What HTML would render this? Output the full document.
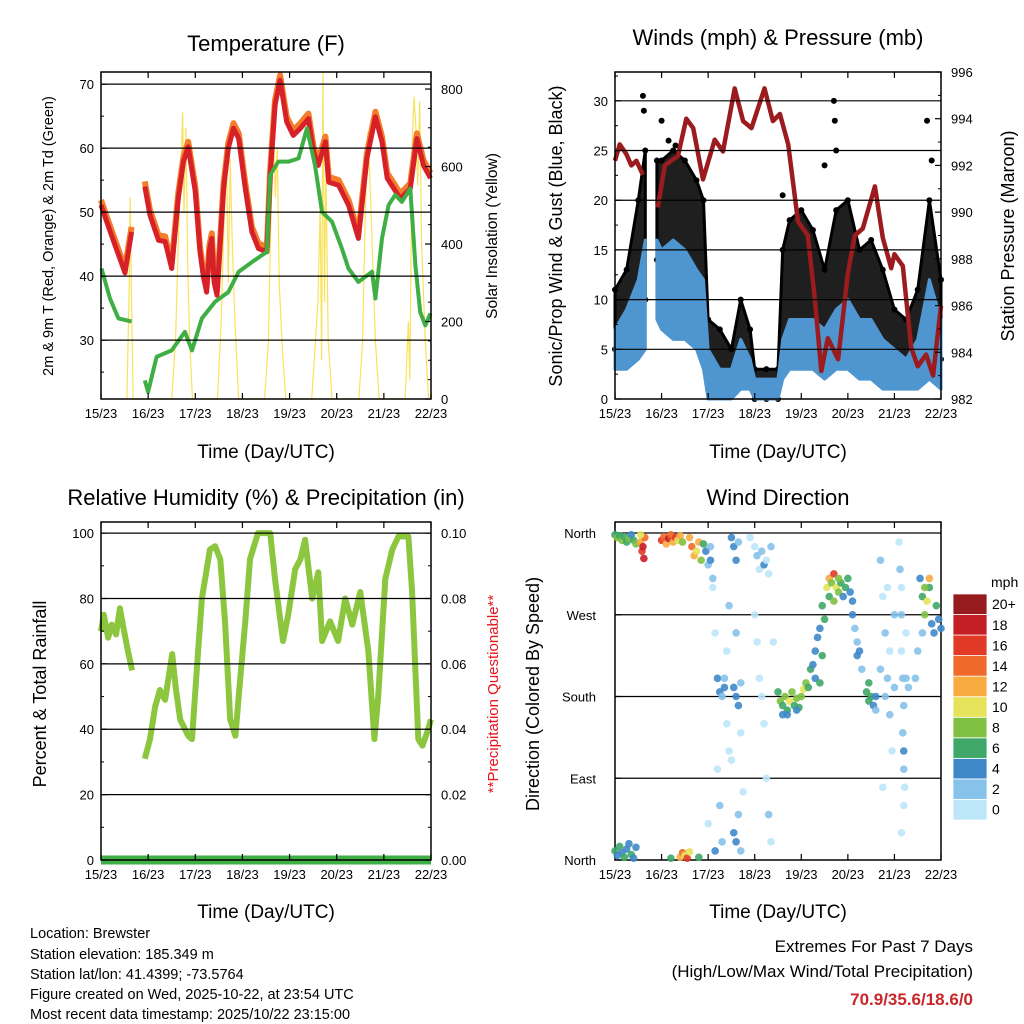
<!DOCTYPE html>
<html><head><meta charset="utf-8"><style>
body{margin:0;background:#fff;}
svg{display:block;font-family:"Liberation Sans",sans-serif;}
</style></head><body>
<svg id="svg" width="1024" height="1024" viewBox="0 0 1024 1024" xmlns="http://www.w3.org/2000/svg">
<rect width="1024" height="1024" fill="#fff"/>
<g id="g"></g>
<text x="266" y="51" text-anchor="middle" font-size="22">Temperature (F)</text>
<text x="778" y="45" text-anchor="middle" font-size="22">Winds (mph) &amp; Pressure (mb)</text>
<text x="266" y="505" text-anchor="middle" font-size="22">Relative Humidity (%) &amp; Precipitation (in)</text>
<text x="778" y="505" text-anchor="middle" font-size="22">Wind Direction</text>
<text x="266" y="458" text-anchor="middle" font-size="19">Time (Day/UTC)</text>
<text x="778" y="458" text-anchor="middle" font-size="19">Time (Day/UTC)</text>
<text x="266" y="918" text-anchor="middle" font-size="19">Time (Day/UTC)</text>
<text x="778" y="918" text-anchor="middle" font-size="19">Time (Day/UTC)</text>
<text transform="translate(53,236) rotate(-90)" text-anchor="middle" font-size="14.5">2m &amp; 9m T (Red, Orange) &amp; 2m Td (Green)</text>
<text transform="translate(497,236) rotate(-90)" text-anchor="middle" font-size="15.5">Solar Insolation (Yellow)</text>
<text transform="translate(562,236) rotate(-90)" text-anchor="middle" font-size="18">Sonic/Prop Wind &amp; Gust (Blue, Black)</text>
<text transform="translate(1014,236) rotate(-90)" text-anchor="middle" font-size="18">Station Pressure (Maroon)</text>
<text transform="translate(46,694) rotate(-90)" text-anchor="middle" font-size="18">Percent &amp; Total Rainfall</text>
<text transform="translate(498,694) rotate(-90)" text-anchor="middle" font-size="15" fill="#e8141c">**Precipitation Questionable**</text>
<text transform="translate(539,694) rotate(-90)" text-anchor="middle" font-size="18">Direction (Colored By Speed)</text>
<g font-size="14.5">
<text x="30" y="938">Location: Brewster</text>
<text x="30" y="959">Station elevation: 185.349 m</text>
<text x="30" y="979">Station lat/lon: 41.4399; -73.5764</text>
<text x="30" y="999">Figure created on Wed, 2025-10-22, at 23:54 UTC</text>
<text x="30" y="1019">Most recent data timestamp: 2025/10/22 23:15:00</text>
</g>
<text x="973" y="952" text-anchor="end" font-size="17">Extremes For Past 7 Days</text>
<text x="973" y="977" text-anchor="end" font-size="17">(High/Low/Max Wind/Total Precipitation)</text>
<text x="973" y="1005" text-anchor="end" font-size="17" font-weight="bold" fill="#c8262a">70.9/35.6/18.6/0</text>
</svg>
<script>
const dayLabels=["15/23","16/23","17/23","18/23","19/23","20/23","21/23","22/23"];
const tempT=[0,0.12,0.3,0.51,0.65,null,0.93,1.04,1.22,1.36,1.5,1.64,1.75,1.85,2.0,2.1,2.17,2.24,2.3,2.35,2.4,2.46,2.6,2.7,2.81,2.92,3.06,3.2,3.34,3.52,3.59,3.69,3.8,3.94,4.08,4.23,4.4,4.51,4.61,4.76,4.83,5.04,5.25,5.46,5.64,5.82,5.96,6.07,6.21,6.35,6.56,6.7,6.84,6.99];
const tempV=[51.1,48.5,44.8,40.5,46.9,null,54,49.5,45.6,45.4,41.2,52.2,57.9,60.2,53.2,43.8,40,37.5,44,45.9,39,37,53.7,60,63.1,61.5,53.7,46.9,44.3,43.8,55.8,66.7,70.6,64.1,62,63.1,64.6,59.4,57.3,61,54.7,54.2,51.1,45.9,58.4,64.9,61,55.3,53.7,52.1,53.7,61.5,57.3,55.3];
const dewT=[0.01,0.19,0.37,0.65,null,0.93,1.0,1.18,1.5,1.78,1.93,2.14,2.42,2.7,2.92,3.2,3.52,3.59,3.76,3.98,4.19,4.37,4.54,4.69,4.9,5.11,5.25,5.46,5.75,5.82,5.96,6.1,6.24,6.38,6.56,6.67,6.77,6.88,6.99];
const dewV=[41.2,36.5,33.4,32.9,null,23.7,21.9,27.4,28.4,31.3,28.4,33.4,36,37.5,40.7,42.2,43.8,55.8,57.9,57.9,58.4,63.1,57.3,50,48.5,44.3,41.2,39.1,40.7,36.5,45.9,51.1,52.7,51.6,53.7,41.7,34.4,32.3,34.2];
const solarT=[0.55,0.6,0.62,0.65,0.68,1.5,1.58,1.65,1.7,1.73,1.76,1.8,1.84,1.88,1.94,2.47,2.55,2.62,2.66,2.7,2.74,2.78,2.84,2.92,3.47,3.55,3.6,3.66,3.7,3.74,3.78,3.85,3.92,4.47,4.55,4.6,4.65,4.68,4.71,4.74,4.77,4.82,4.9,5.47,5.55,5.6,5.66,5.7,5.75,5.82,5.9,6.45,6.52,6.55,6.6,6.64,6.68,6.72,6.76,6.8,6.88,6.95];
const solarV=[0,300,520,250,0,0,150,450,600,740,480,700,350,150,0,0,200,500,660,300,620,420,200,0,0,150,450,700,520,650,300,120,0,0,150,250,500,100,844,250,600,150,0,0,150,450,690,580,400,150,0,0,200,50,650,780,700,550,770,400,150,0];
const presT=[0,0.1,0.24,0.35,0.46,0.6,null,0.92,1.07,1.35,1.53,1.68,1.89,2.14,2.32,2.57,2.75,2.93,3.21,3.39,3.54,3.72,3.93,4.14,4.29,4.43,4.57,4.79,5.0,5.15,5.32,5.58,5.75,5.93,6.0,6.18,6.36,6.5,6.68,6.83,7.0];
const presV=[992.2,992.9,992.5,992.0,992.2,991.6,null,990.2,992.0,992.4,994.0,993.6,991.4,993.1,992.6,995.3,993.9,993.6,995.3,993.9,994.2,992.9,989.6,989.0,986.3,983.2,984.6,983.7,987.4,989.0,989.3,991.1,988.9,987.6,988.2,987.7,984.2,983.4,983.9,983.0,986.0];
const windT=[0,0.25,0.5,0.65,null,0.9,1.0,1.25,1.5,1.75,1.9,2.0,2.25,2.5,2.7,2.9,3.0,3.25,3.5,3.6,3.75,4.0,4.25,4.5,4.75,5.0,5.25,5.5,5.75,6.0,6.25,6.5,6.75,7.0];
const windLo=[3,3,4,5,null,8,7,6,6,5,3,0,0,0,1,1,0,0,0,2,3,3,3,2,3,3,2,2,1,1,1,1,2,1];
const windHi=[7,9,12,16,null,16,15,16,15,13,12,5,3,3,6,4,2,2,2,6,8,8,8,7,9,10,8,8,6,5,4,6,12,8];
const gustLo=[5,6,8,10,null,14,14,13,13,10,8,1,1,1,3,2,0,0,0,5,7,7,6,4,7,8,5,5,3,2,2,3,8,4];
const gustHi=[11,13,20,25,null,24,24,25,24,22,20,8,7,5,10,7,3,3,3,15,18,19,17,13,19,20,15,16,13,9,8,11,20,12];
const gustOutT=[0.6,0.62,1.0,1.3,1.15,4.7,4.72,4.75,6.7,6.8,4.5,3.6];
const gustOutV=[30.5,29,28,25.5,26,30,28,25,28,24,23.5,20.5];
const rhT=[0,0.06,0.15,0.23,0.32,0.4,0.49,0.57,0.66,null,0.93,1.04,1.15,1.25,1.36,1.51,1.59,1.68,1.85,1.93,2.04,2.14,2.31,2.42,2.53,2.63,2.74,2.85,2.95,3.06,3.16,3.33,3.59,3.69,3.86,3.97,4.12,4.23,4.33,4.48,4.61,4.69,4.86,5.03,5.18,5.33,5.5,5.67,5.8,5.88,6.03,6.18,6.31,6.52,6.6,6.73,6.82,6.94,7.0];
const rhV=[70,75,68,72,69,77,70,64,58,null,31,37,47,52,49,63,52,43,38,37,60,80,95,96,92,73,43,38,55,73,92,100,100,86,67,75,89,92,98,80,88,67,73,67,80,72,82,64,37,50,86,95,99,99,82,37,35,40,43];
const precipT=[0,7];
const precipV=[0,0];
const dirT=[0,0.05,0.1,0.15,0.2,0.25,0.3,0.35,0.4,0.45,0,0.05,0.1,0.15,0.2,0.25,0.3,0.35,0.4,0.45,0.55,0.58,0.6,0.62,0.64,0.55,
1.0,1.05,1.1,1.15,1.2,1.25,1.3,1.35,1.4,1.45,1.4,1.45,1.5,1.55,1.6,1.2,1.8,
1.6,1.65,1.7,1.75,1.8,1.85,1.9,1.95,
2.0,2.05,2.1,2.15,2.2,2.25,2.3,2.35,2.4,2.05,2.1,2.2,2.25,2.3,2.0,2.35,2.4,2.45,2.45,2.15,
2.5,2.55,2.6,2.65,2.55,2.6,2.65,2.7,2.55,2.6,2.65,2.7,2.6,2.7,2.5,2.75,
2.9,3.0,3.05,3.1,3.15,3.2,3.25,3.3,3.35,3.0,3.05,3.1,3.2,3.25,3.3,3.35,3.15,3.4,
3.5,3.55,3.6,3.65,3.7,3.75,3.8,3.85,3.9,3.95,4.0,4.05,4.1,4.15,3.6,3.7,3.9,4.2,
4.25,4.3,4.35,4.4,4.45,4.3,4.4,4.5,4.45,
4.55,4.6,4.65,4.7,4.75,4.8,4.85,4.9,4.95,5.0,5.05,4.6,4.7,4.8,
5.1,5.15,5.2,5.25,5.3,5.1,5.2,
5.4,5.45,5.5,5.55,5.45,5.6,5.6,
5.7,5.75,5.8,5.85,5.9,5.95,5.7,5.8,5.9,6.0,5.75,5.85,6.0,
6.1,6.12,6.15,6.15,6.15,6.18,6.2,6.18,6.2,6.2,6.22,6.2,6.15,6.25,6.3,6.25,
6.55,6.6,6.65,6.7,6.75,6.8,6.85,6.9,6.95,7.0,6.65,6.75,6.6,6.5,6.45];
const dirD=[358,355,357,352,356,350,354,358,352,348,10,5,15,8,3,12,18,6,2,14,350,340,345,332,355,358,
352,356,348,354,358,350,355,352,357,350,3,8,5,2,9,2,3,
355,345,335,340,350,330,348,340,
325,345,300,250,200,185,180,190,150,330,310,100,60,20,40,200,230,120,280,10,
355,345,330,350,190,180,170,195,30,20,50,10,250,140,110,75,
355,345,335,320,340,325,330,315,345,270,240,200,150,90,50,20,180,240,
185,175,170,180,165,175,185,170,178,168,180,188,195,190,160,160,165,210,
215,230,245,255,225,200,195,265,280,
300,310,305,315,300,295,305,290,300,310,295,290,285,310,
270,255,240,230,210,285,225,
185,175,180,170,195,165,180,
330,290,250,200,160,120,210,180,230,190,80,300,270,
350,320,300,270,230,200,170,140,120,100,80,60,30,200,190,250,
310,290,270,285,300,260,250,280,265,255,300,310,250,230,200];
const dirS=[6,8,6,9,7,6,8,5,7,8,6,5,6,4,6,5,4,6,5,4,12,16,18,18,14,10,
16,14,12,18,14,12,16,10,12,8,12,14,10,16,10,6,6,
12,14,12,10,12,8,6,4,
2,2,0,0,4,4,2,4,0,4,2,0,2,2,0,2,0,0,2,4,
4,4,4,2,4,4,4,2,4,4,2,2,2,0,0,0,
0,0,2,0,2,4,0,0,2,0,0,0,0,0,2,0,0,0,
6,8,6,8,6,10,8,6,8,6,8,10,8,6,4,4,4,6,
4,4,4,4,6,4,6,6,6,
10,12,8,16,10,8,6,4,6,6,4,6,8,8,
4,2,2,4,2,4,4,
6,6,6,4,6,2,4,
2,0,2,2,2,0,2,2,0,2,0,0,2,
0,2,0,2,0,2,2,2,4,2,0,0,0,2,2,0,
4,6,8,10,6,4,4,6,4,4,8,12,2,2,2];
const speedLabels=["0","2","4","6","8","10","12","14","16","18","20+"];
const speedColors=["#bde6f9","#86c2ea","#3f88c8","#3fa768","#80c043","#e6e35a","#f8ab3f","#ef6a2a","#e13a27","#c51f26","#961b1e"];

const NS="http://www.w3.org/2000/svg";
const G=document.getElementById('g');
function mk(tag,attrs,parent){const e=document.createElementNS(NS,tag);for(const k in attrs)e.setAttribute(k,attrs[k]);(parent||G).appendChild(e);return e;}
function scale(d0,d1,r0,r1){return v=>r0+(v-d0)/(d1-d0)*(r1-r0);}
function pathFrom(ts,vs,fx,fy){let d="",pen=false;for(let i=0;i<ts.length;i++){if(ts[i]===null||vs[i]===null){pen=false;continue;}d+=(pen?"L":"M")+fx(ts[i]).toFixed(1)+","+fy(vs[i]).toFixed(1);pen=true;}return d;}
function bandFrom(ts,lo,hi,fx,fy){let segs=[],cur=[];for(let i=0;i<ts.length;i++){if(ts[i]===null){if(cur.length)segs.push(cur);cur=[];continue;}cur.push(i);}if(cur.length)segs.push(cur);let d="";segs.forEach(s=>{s.forEach((i,k)=>{d+=(k?"L":"M")+fx(ts[i]).toFixed(1)+","+fy(hi[i]).toFixed(1);});for(let k=s.length-1;k>=0;k--){const i=s[k];d+="L"+fx(ts[i]).toFixed(1)+","+fy(lo[i]).toFixed(1);}d+="Z";});return d;}

function frame(name,x0,x1,y0,y1,leftTicks,fyL,leftLabelFn,grid,rightTicks,fyR,rightLabelFn,minorL,minorR){
  const fx=scale(0,7,x0,x1);
  const ax=mk('g',{});
  
  
  grid.forEach(v=>{const y=fyL(v);const l=mk('line',{x1:x0,x2:x1,y1:y,y2:y,stroke:'#000','stroke-width':1.2},ax);});
  for(let i=0;i<=7;i++){const x=fx(i);mk('line',{x1:x,x2:x,y1:y1,y2:y1-6,stroke:'#000','stroke-width':1.2},ax);mk('line',{x1:x,x2:x,y1:y0,y2:y0+6,stroke:'#000','stroke-width':1.2},ax);
    const t=mk('text',{x:x,y:y1+19,'text-anchor':'middle','font-size':13},ax);t.textContent=dayLabels[i];}
  leftTicks.forEach(v=>{const y=fyL(v);mk('line',{x1:x0,x2:x0+6,y1:y,y2:y,stroke:'#000','stroke-width':1.2},ax);const t=mk('text',{x:x0-7,y:y+5,'text-anchor':'end','font-size':13},ax);t.textContent=leftLabelFn(v);});
  (minorL||[]).forEach(v=>{const y=fyL(v);mk('line',{x1:x0,x2:x0+3,y1:y,y2:y,stroke:'#000'},ax);});
  if(rightTicks){rightTicks.forEach(v=>{const y=fyR(v);mk('line',{x1:x1,x2:x1-6,y1:y,y2:y,stroke:'#000','stroke-width':1.2},ax);const t=mk('text',{x:x1+10,y:y+5,'font-size':13},ax);t.textContent=rightLabelFn(v);});
  (minorR||[]).forEach(v=>{const y=fyR(v);mk('line',{x1:x1,x2:x1-3,y1:y,y2:y,stroke:'#000'},ax);});}
  const r=mk('rect',{x:x0,y:y0,width:x1-x0,height:y1-y0,fill:'none',stroke:'#000','stroke-width':1.5},ax);
  
  return fx;
}
function range(a,b,s){const r=[];for(let v=a;v<=b+1e-9;v+=s)r.push(+v.toFixed(4));return r;}

// ---- Temperature panel
(function(){
 const x0=101,x1=431,y0=72,y1=399;
 const fyT=scale(20.8,71.9,y1,y0), fyS=scale(0,844,y1,y0);
 const fx=scale(0,7,x0,x1);
 const sp=mk('path',{d:pathFrom(solarT,solarV,fx,fyS),fill:'none',stroke:'#f9e25a','stroke-width':1.2});
 
 const op=mk('path',{d:pathFrom(tempT,tempV.map(v=>v===null?null:v+0.8),fx,fyT),fill:'none',stroke:'#f47c2a','stroke-width':6,'stroke-linejoin':'round'});
 
 const rp=mk('path',{d:pathFrom(tempT,tempV,fx,fyT),fill:'none',stroke:'#d62128','stroke-width':5,'stroke-linejoin':'round'});
 
 const gp=mk('path',{d:pathFrom(dewT,dewV,fx,fyT),fill:'none',stroke:'#3fae44','stroke-width':4,'stroke-linejoin':'round'});
 
 frame('temperature',x0,x1,y0,y1,[30,40,50,60,70],fyT,v=>v,[30,40,50,60,70],[0,200,400,600,800],fyS,v=>v,range(25,65,10),range(100,700,200).concat(range(50,800,100).filter(v=>v%100!==0)));
})();

// ---- Wind panel
(function(){
 const x0=615,x1=941,y0=72,y1=399;
 const fyW=scale(0,32.9,y1,y0), fyP=scale(982,996,y1,y0);
 const fx=scale(0,7,x0,x1);
 const gb=mk('path',{d:bandFrom(windT,gustLo,gustHi,fx,fyW),fill:'#000','fill-opacity':0.88,stroke:'#000','stroke-width':3,'stroke-linejoin':'round'});
 
 for(let i=0;i<windT.length;i++){if(windT[i]===null)continue;
   [gustLo[i],gustHi[i]].forEach(v=>{const c=mk('circle',{cx:fx(windT[i]),cy:fyW(v),r:3,fill:'#000'});});}
 for(let i=0;i<gustOutT.length;i++){const c=mk('circle',{cx:fx(gustOutT[i]),cy:fyW(gustOutV[i]),r:3,fill:'#000'});}
 const wb=mk('path',{d:bandFrom(windT,windLo,windHi,fx,fyW),fill:'#4f96d0',stroke:'#4f96d0','stroke-width':3,'stroke-linejoin':'round'});
 
 const pp=mk('path',{d:pathFrom(presT,presV,fx,fyP),fill:'none',stroke:'#9b1b1e','stroke-width':4.5,'stroke-linejoin':'round'});
 
 frame('wind',x0,x1,y0,y1,[0,5,10,15,20,25,30],fyW,v=>v,[5,10,15,20,25,30],[982,984,986,988,990,992,994,996],fyP,v=>v,range(2.5,32.5,5),range(983,995,2));
})();

// ---- RH panel
(function(){
 const x0=101,x1=431,y0=522,y1=860;
 const fyR=scale(0,103.4,y1,y0), fyPr=scale(0,0.1034,y1,y0);
 const fx=scale(0,7,x0,x1);
 const pr=mk('path',{d:pathFrom(precipT,precipV,fx,fyPr),fill:'none',stroke:'#3fae44','stroke-width':9});
 
 const rp=mk('path',{d:pathFrom(rhT,rhV,fx,fyR),fill:'none',stroke:'#8cc63f','stroke-width':6,'stroke-linejoin':'round'});
 
 frame('humidity',x0,x1,y0,y1,[0,20,40,60,80,100],fyR,v=>v,[20,40,60,80,100],[0,0.02,0.04,0.06,0.08,0.10],fyPr,v=>v.toFixed(2),range(10,90,20),range(0.01,0.09,0.02));
})();

// ---- Direction panel
(function(){
 const x0=615,x1=941,y0=522,y1=860;
 const fyD=scale(0,360,y1,533);
 const fx=scale(0,7,x0,x1);
 const names=["North","East","South","West","North"];
 frame('direction',x0,x1,y0,y1,[],fyD,v=>v,[90,180,270],null,null,null,null,null);
 [0,90,180,270,360].forEach((v,i)=>{const y=fyD(v);mk('line',{x1:x0,x2:x0+6,y1:y,y2:y,stroke:'#000','stroke-width':1.2});const t=mk('text',{x:x0-19,y:y+5,'text-anchor':'end','font-size':13});t.textContent=names[i];});
 mk('line',{x1:x0,x2:x1,y1:fyD(360),y2:fyD(360),stroke:'#000','stroke-width':1.2});
 for(let i=0;i<dirT.length;i++){const b=Math.min(10,Math.floor(dirS[i]/2));
   const c=mk('circle',{cx:fx(dirT[i]),cy:fyD(dirD[i]),r:3.8,fill:speedColors[b],'fill-opacity':0.9});
   }
 const cb=mk('g',{});
 
 const bh=20.55;
 for(let k=0;k<11;k++){const y=820-(k+1)*bh;mk('rect',{x:953,y:y,width:34,height:bh,fill:speedColors[k],stroke:'#fff','stroke-width':0.8},cb);
   const t=mk('text',{x:992,y:y+bh/2+5,'font-size':14},cb);t.textContent=speedLabels[k];}
 const u=mk('text',{x:991,y:587,'font-size':14},cb);u.textContent='mph';
})();
</script>
</body></html>
